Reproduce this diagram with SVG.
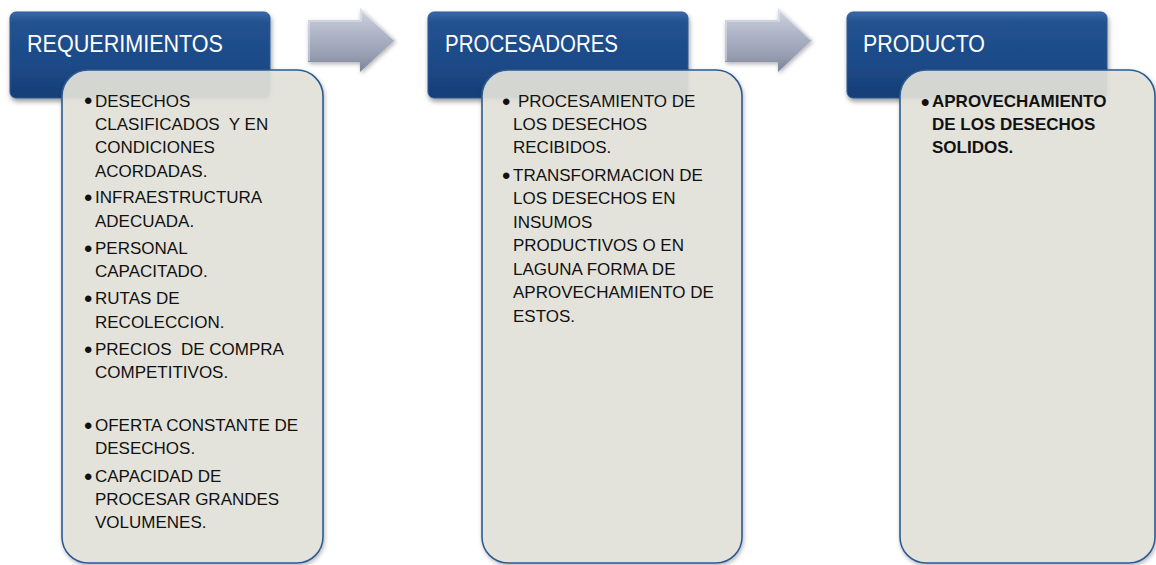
<svg xmlns="http://www.w3.org/2000/svg" width="1156" height="565" viewBox="0 0 1156 565">
<defs>
<linearGradient id="hdr" x1="0" y1="0" x2="0" y2="1">
<stop offset="0" stop-color="#3a68a8"/>
<stop offset="0.12" stop-color="#22528f"/>
<stop offset="0.6" stop-color="#1c4a88"/>
<stop offset="1" stop-color="#163e76"/>
</linearGradient>
<linearGradient id="arr" x1="0" y1="0" x2="0" y2="1">
<stop offset="0" stop-color="#d2d6e0"/>
<stop offset="0.35" stop-color="#b3b9ca"/>
<stop offset="0.75" stop-color="#979eb2"/>
<stop offset="1" stop-color="#7b8297"/>
</linearGradient>
<filter id="sh" x="-10%" y="-10%" width="120%" height="130%">
<feDropShadow dx="1" dy="3" stdDeviation="2.5" flood-color="#000" flood-opacity="0.4"/>
</filter>
<filter id="sh2" x="-10%" y="-10%" width="120%" height="120%">
<feDropShadow dx="1" dy="2" stdDeviation="2" flood-color="#000" flood-opacity="0.3"/>
</filter>
</defs>
<style>
.hdr{fill:url(#hdr);stroke:#2c5a96;stroke-width:1;filter:url(#sh)}
.hdrt{font-family:"Liberation Sans",Arial,sans-serif;font-size:24px;fill:#ffffff}
.box{fill:#e6e4dc;fill-opacity:0.9;stroke:#2d5a92;stroke-width:1.6;filter:url(#sh2)}
.t{font-family:"Liberation Sans",Arial,sans-serif;font-size:17px;fill:#111111;white-space:pre}
.bl{font-size:24px}
.b{font-weight:bold}
.arrow{fill:url(#arr);filter:url(#sh2)}
.hl{fill:none;stroke:#eef0f4;stroke-width:1.2;stroke-opacity:0.7}
</style>
<rect width="1156" height="565" fill="#ffffff"/>
<g id="connectors">
<polygon class="arrow" points="308,20 360,20 360,8 395,40 360,72 360,62 308,62"/>
<polyline class="hl" points="309,61 309,21 361,21 361,10 394,40"/>
<polygon class="arrow" points="725,20 778,20 778,8 812,40 778,72 778,62 725,62"/>
<polyline class="hl" points="726,61 726,21 779,21 779,10 811,40"/>
</g>
<g id="requerimientos">
<rect class="hdr" x="10" y="12" width="260" height="86" rx="6"/>
<text class="hdrt" x="27" y="52" textLength="196" lengthAdjust="spacingAndGlyphs">REQUERIMIENTOS</text>
<rect class="box" x="62" y="70" width="261" height="493" rx="26"/>
<g class="t">
<text class="bl" x="84" y="109">•</text><text x="95" y="106.5">DESECHOS</text>
<text x="95" y="130" xml:space="preserve">CLASIFICADOS  Y EN</text>
<text x="95" y="153">CONDICIONES</text>
<text x="95" y="176.5">ACORDADAS.</text>
<text class="bl" x="84" y="205.5">•</text><text x="95" y="203">INFRAESTRUCTURA</text>
<text x="95" y="226.5">ADECUADA.</text>
<text class="bl" x="84" y="256.5">•</text><text x="95" y="254">PERSONAL</text>
<text x="95" y="277">CAPACITADO.</text>
<text class="bl" x="84" y="306.5">•</text><text x="95" y="304">RUTAS DE</text>
<text x="95" y="327.5">RECOLECCION.</text>
<text class="bl" x="84" y="357.5">•</text><text x="95" y="355" xml:space="preserve">PRECIOS  DE COMPRA</text>
<text x="95" y="378">COMPETITIVOS.</text>
<text class="bl" x="84" y="433.5">•</text><text x="95" y="431">OFERTA CONSTANTE DE</text>
<text x="95" y="454">DESECHOS.</text>
<text class="bl" x="84" y="484.5">•</text><text x="95" y="482">CAPACIDAD DE</text>
<text x="95" y="505">PROCESAR GRANDES</text>
<text x="95" y="528">VOLUMENES.</text>
</g>
</g>
<g id="procesadores">
<rect class="hdr" x="428" y="12" width="260" height="86" rx="6"/>
<text class="hdrt" x="445" y="52" textLength="173" lengthAdjust="spacingAndGlyphs">PROCESADORES</text>
<rect class="box" x="482" y="70" width="260" height="493" rx="26"/>
<g class="t">
<text class="bl" x="502" y="109.5">•</text><text x="518" y="107">PROCESAMIENTO DE</text>
<text x="513" y="130">LOS DESECHOS</text>
<text x="513" y="153">RECIBIDOS.</text>
<text class="bl" x="502" y="183.5">•</text><text x="513" y="181">TRANSFORMACION DE</text>
<text x="513" y="204">LOS DESECHOS EN</text>
<text x="513" y="227.5">INSUMOS</text>
<text x="513" y="251">PRODUCTIVOS O EN</text>
<text x="513" y="274.5">LAGUNA FORMA DE</text>
<text x="513" y="298">APROVECHAMIENTO DE</text>
<text x="513" y="321.5">ESTOS.</text>
</g>
</g>
<g id="producto">
<rect class="hdr" x="847" y="12" width="260" height="86" rx="6"/>
<text class="hdrt" x="863" y="52" textLength="122" lengthAdjust="spacingAndGlyphs">PRODUCTO</text>
<rect class="box" x="900" y="70" width="255" height="493" rx="26"/>
<g class="t b">
<text class="bl" x="921" y="109.5">•</text><text x="932" y="107">APROVECHAMIENTO</text>
<text x="932" y="130">DE LOS DESECHOS</text>
<text x="932" y="153">SOLIDOS.</text>
</g>
</g>
</svg>
